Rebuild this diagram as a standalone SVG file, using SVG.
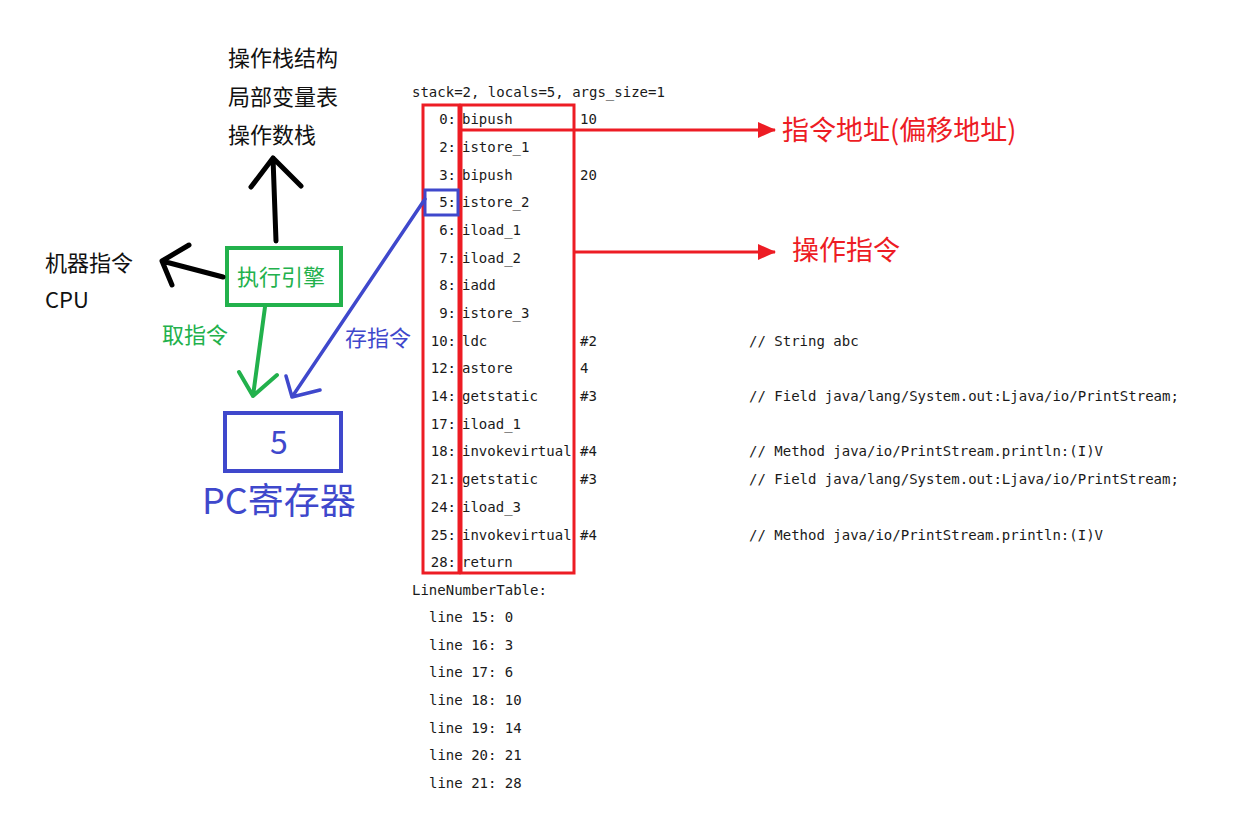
<svg xmlns="http://www.w3.org/2000/svg" width="1236" height="837" viewBox="0 0 1236 837">
<defs>
<style>
.mono{font-family:"DejaVu Sans Mono","Liberation Mono",monospace;font-size:14px;fill:#1a1a1a}
.cjk{font-family:"Noto Sans CJK SC","Noto Sans",sans-serif}
.blk{fill:#111;font-size:22px}
.red{fill:#ed1c24}
.grn{fill:#22b14c}
.blu{fill:#3f48cc}
.rl{stroke:#ed1c24;stroke-width:3;fill:none}
.hand{fill:none;stroke-linecap:round;stroke-linejoin:round}
</style>
<marker id="ah" markerWidth="18" markerHeight="16" refX="17" refY="8" orient="auto" markerUnits="userSpaceOnUse">
<polygon points="0,0 18,8 0,16" fill="#ed1c24"/>
</marker>
</defs>
<rect width="1236" height="837" fill="#fff"/>

<g id="top-labels" class="cjk blk">
<text x="228" y="66">操作栈结构</text>
<text x="228" y="105">局部变量表</text>
<text x="228" y="143">操作数栈</text>
</g>
<g id="cpu-labels" class="cjk blk">
<text x="45" y="271">机器指令</text>
<text x="45" y="308">CPU</text>
</g>
<g id="engine">
<rect x="227" y="248" width="114" height="57" fill="none" stroke="#22b14c" stroke-width="4"/>
<text x="281" y="285" class="cjk grn" font-size="22" text-anchor="middle">执行引擎</text>
</g>
<g id="pc-register">
<rect x="225" y="413" width="116" height="58" fill="none" stroke="#3f48cc" stroke-width="4"/>
<text x="279" y="454" class="cjk blu" font-size="32" text-anchor="middle">5</text>
<text x="202" y="514" class="cjk blu" font-size="36">PC寄存器</text>
</g>
<g id="edge-labels" class="cjk" font-size="22">
<text x="162" y="343" class="grn">取指令</text>
<text x="345" y="346" class="blu">存指令</text>
<text x="782" y="140" class="red" font-size="27">指令地址(偏移地址)</text>
<text x="792" y="260" class="red" font-size="27">操作指令</text>
</g>

<g id="bytecode" class="mono">
<text x="412" y="97">stack=2, locals=5, args_size=1</text>
<g text-anchor="end">
<text x="456" y="124">0:</text>
<text x="456" y="152">2:</text>
<text x="456" y="180">3:</text>
<text x="456" y="207">5:</text>
<text x="456" y="235">6:</text>
<text x="456" y="263">7:</text>
<text x="456" y="290">8:</text>
<text x="456" y="318">9:</text>
<text x="456" y="346">10:</text>
<text x="456" y="373">12:</text>
<text x="456" y="401">14:</text>
<text x="456" y="429">17:</text>
<text x="456" y="456">18:</text>
<text x="456" y="484">21:</text>
<text x="456" y="512">24:</text>
<text x="456" y="540">25:</text>
<text x="456" y="567">28:</text>
</g>
<text x="462" y="124">bipush</text>
<text x="462" y="152">istore_1</text>
<text x="462" y="180">bipush</text>
<text x="462" y="207">istore_2</text>
<text x="462" y="235">iload_1</text>
<text x="462" y="263">iload_2</text>
<text x="462" y="290">iadd</text>
<text x="462" y="318">istore_3</text>
<text x="462" y="346">ldc</text>
<text x="462" y="373">astore</text>
<text x="462" y="401">getstatic</text>
<text x="462" y="429">iload_1</text>
<text x="462" y="456">invokevirtual</text>
<text x="462" y="484">getstatic</text>
<text x="462" y="512">iload_3</text>
<text x="462" y="540">invokevirtual</text>
<text x="462" y="567">return</text>
<text x="580" y="124">10</text>
<text x="580" y="180">20</text>
<text x="580" y="346">#2</text>
<text x="580" y="373">4</text>
<text x="580" y="401">#3</text>
<text x="580" y="456">#4</text>
<text x="580" y="484">#3</text>
<text x="580" y="540">#4</text>
<text x="749" y="346">// String abc</text>
<text x="749" y="401">// Field java/lang/System.out:Ljava/io/PrintStream;</text>
<text x="749" y="456">// Method java/io/PrintStream.println:(I)V</text>
<text x="749" y="484">// Field java/lang/System.out:Ljava/io/PrintStream;</text>
<text x="749" y="540">// Method java/io/PrintStream.println:(I)V</text>
<text x="412" y="595">LineNumberTable:</text>
<text x="429" y="622">line 15: 0</text>
<text x="429" y="650">line 16: 3</text>
<text x="429" y="677">line 17: 6</text>
<text x="429" y="705">line 18: 10</text>
<text x="429" y="733">line 19: 14</text>
<text x="429" y="760">line 20: 21</text>
<text x="429" y="788">line 21: 28</text>
</g>

<g id="highlight-boxes">
<rect x="423" y="105" width="36" height="468" class="rl"/>
<rect x="461" y="105" width="113" height="468" class="rl"/>
<rect x="425" y="190" width="33" height="25" fill="none" stroke="#3f48cc" stroke-width="3"/>
</g>

<g id="connectors">
<line x1="460" y1="130" x2="775" y2="130" class="rl" marker-end="url(#ah)"/>
<line x1="574" y1="252" x2="775" y2="252" class="rl" marker-end="url(#ah)"/>
<path d="M276,241 L273,158 M251,187 L273,158 L301,186" class="hand" stroke="#000" stroke-width="5"/>
<path d="M223,277 L162,261 M189,245 L162,261 L172,285" class="hand" stroke="#000" stroke-width="5"/>
<path d="M265,307 L253,396 M239,372 L253,396 L277,375" class="hand" stroke="#22b14c" stroke-width="4"/>
<path d="M425,199 L292,397 M286,376 L292,397 L320,390" class="hand" stroke="#3f48cc" stroke-width="3.5"/>
</g>
</svg>
